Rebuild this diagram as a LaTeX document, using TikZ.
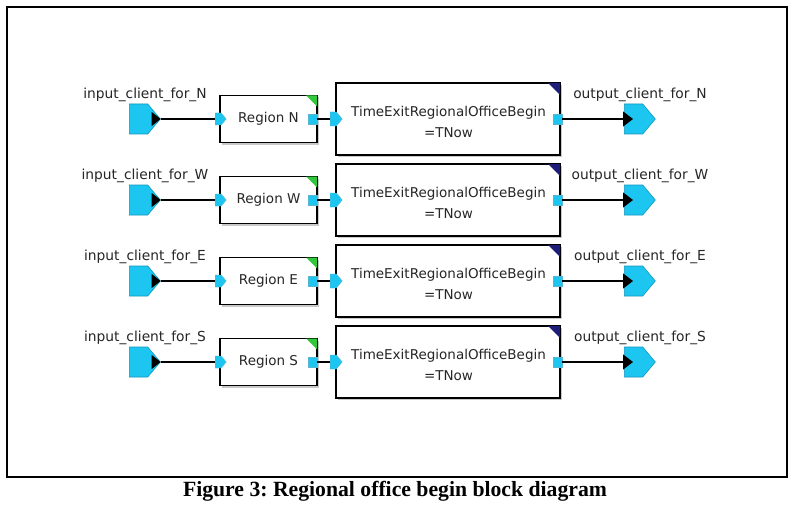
\documentclass[tikz,border=0pt]{standalone}
\usepackage{fontspec}
\setmainfont{DejaVu Sans}
\newfontfamily\capfont{Liberation Serif}
\usetikzlibrary{shapes.symbols,shadows,arrows.meta,calc}
\definecolor{portblue}{RGB}{28,198,240}
\definecolor{portedge}{RGB}{20,150,190}
\definecolor{cornergreen}{RGB}{50,200,60}
\definecolor{cornernavy}{RGB}{30,30,120}
\frenchspacing
\begin{document}
\begin{tikzpicture}[x=1pt,y=-1pt,
  lbl/.style={font=\fontsize{13.8}{16}\selectfont, text=black!85, inner sep=0},
  txt/.style={font=\fontsize{13.5}{16}\selectfont, text=black!85, inner sep=0, align=center},
  port/.style={shape=signal, signal to=east, signal pointer angle=100, fill=portblue, draw=portedge, line width=0.6pt, minimum width=31pt, minimum height=30pt, inner sep=0, anchor=west},
  chev/.style={shape=signal, signal to=east, signal pointer angle=100, fill=portblue, draw=portedge!70, line width=0.4pt, inner sep=0, anchor=west},
  outsq/.style={fill=portblue, draw=portedge!70, line width=0.4pt, minimum width=9pt, minimum height=10pt, inner sep=0},
  block/.style={draw=black, line width=1.2pt, fill=white, inner sep=0, font=\fontsize{13.5}{16}\selectfont, text=black!85, drop shadow={shadow xshift=2pt, shadow yshift=-2pt, fill=black!35, opacity=0.6}},
  wire/.style={draw=black, line width=1.2pt},
]
\useasboundingbox (0,0) rectangle (800,508);
\fill[white] (0,0) rectangle (800,508);
\node[draw, line width=2pt, minimum width=780.5pt, minimum height=469.5pt, inner sep=0] (frame) at (396.75,242.25) {};
\foreach \d [count=\i from 0] in {N,W,E,S}{
  \pgfmathsetmacro\yy{119+81*\i}
  % blocks
  \node[block, minimum width=97pt, minimum height=47pt] (reg\d) at (268.5,\yy) {Region \d};
  \fill[cornergreen] ([xshift=-0.6pt,yshift=-0.6pt]reg\d.north east) -- ++(-11,0) -- ++(11,11) -- cycle;
  \node[block, minimum width=224pt, minimum height=72pt] (tm\d) at (448,\yy) {};
  \node[txt] (tmt\d) at (448.5,\yy+2.5) {TimeExitRegionalOfficeBegin\\[5pt]=TNow};
  \fill[cornernavy] ([xshift=-0.6pt,yshift=-0.6pt]tm\d.north east) -- ++(-12,0) -- ++(12,12) -- cycle;
  % ports
  \node[port] (in\d) at (129,\yy) {};
  \fill (in\d.east) -- ++(-9,-7) -- ++(0,14) -- cycle;
  \node[lbl] (inl\d) at (145,\yy-24) {input\_client\_for\_\d};
  \node[chev, minimum width=11pt, minimum height=12pt] (ci\d) at (215,\yy) {};
  \node[outsq] (ro\d) at (312.5,\yy) {};
  \node[chev, minimum width=12pt, minimum height=14pt] (ct\d) at (330,\yy) {};
  \node[outsq] (to\d) at (557.5,\yy) {};
  \node[port] (out\d) at (624,\yy) {};
  \node[lbl] (outl\d) at (640,\yy-24) {output\_client\_for\_\d};
  % wires
  \draw[wire] (in\d.east) -- (ci\d.west);
  \draw[wire] (ro\d.east) -- (ct\d.west);
  \draw[wire, -{Triangle[length=10pt,width=15pt]}] (to\d.east) -- ([xshift=9pt]out\d.west);
}
\node[font=\capfont\bfseries\fontsize{21.7}{24}\selectfont, inner sep=0] (cap) at (395,491) {Figure 3: Regional office begin block diagram};
\end{tikzpicture}
\end{document}
